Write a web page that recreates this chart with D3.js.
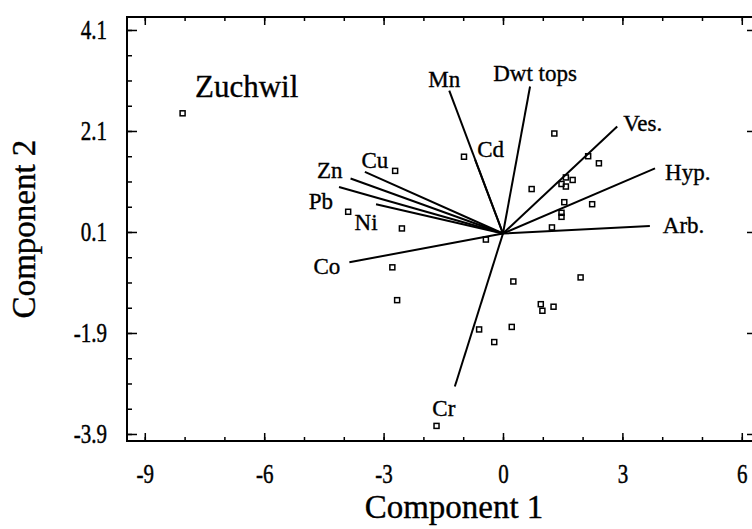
<!DOCTYPE html>
<html>
<head>
<meta charset="utf-8">
<script src="https://cdn.jsdelivr.net/npm/d3@7"></script>
<style>
  body { margin: 0; background: #fff; }
  text { font-family: "Liberation Serif", "Times New Roman", serif; fill: #000; stroke: #000; stroke-width: 0.35px; }
</style>
</head>
<body>
<svg id="biplot" width="752" height="529"></svg>
<script>
// scores of the samples (component 1, component 2)
const sampleX = [-8.05, -0.98, -2.71, -3.89, -2.54, -0.43, 1.29, 2.14, 2.41, 0.72,
                 1.58, 1.75, 1.47, 1.58, 1.54, 2.24, 1.47, 1.47, 1.23, 0.26,
                 1.95, 0.95, 0.99, 1.27, 0.22, -0.60, -2.78, -2.66, -0.22, -1.67];
const sampleY = [2.45, 1.59, 1.31, 0.50, 0.17, -0.05, 2.05, 1.60, 1.46, 0.95,
                 1.18, 1.13, 1.05, 1.00, 0.69, 0.65, 0.48, 0.40, 0.19, -0.88,
                 -0.80, -1.33, -1.46, -1.38, -1.78, -1.83, -0.60, -1.25, -2.08, -3.74];

// loading vectors
const varNames = ["Mn", "Dwt tops", "Ves.", "Hyp.", "Arb.", "Cd", "Cu", "Zn", "Pb", "Ni", "Co", "Cr"];
const varX = [-1.35, 0.68, 2.87, 3.82, 3.69, -0.70, -3.47, -3.83, -4.12, -3.19, -3.86, -1.21];
const varY = [2.90, 2.98, 2.19, 1.36, 0.22, 1.53, 1.29, 1.16, 0.99, 0.65, -0.50, -2.96];
const vecOrigin = [0, 0.07];

const xTicks = [-9, -6, -3, 0, 3, 6];
const yTicks = [4.1, 2.1, 0.1, -1.9, -3.9];
const xMinor = d3.range(-9, 7, 1);
const yMinor = d3.range(-3.9, 4.2, 0.5);

let svg = d3.select("svg#biplot");
let margin = { top: 17, left: 127 };
let chartWidth = 630;
let chartHeight = 424;

const xScale = d3.scaleLinear().domain([-9.447, 6.382]).range([0, chartWidth]);
const yScale = d3.scaleLinear().domain([-4.039, 4.357]).range([chartHeight, 0]);

let chart = svg.append("g")
    .attr("transform", "translate(" + margin.left + "," + margin.top + ")");

// tick label placement (the labels in the figure are a bit stretched vertically)
function fixLabels(g, fn) {
  g.selectAll(".tick text").each(function(d) {
    let t = d3.select(this);
    t.attr("x", null).attr("y", null).attr("dy", null)
     .style("font-size", "21px").attr("fill", "#000");
    fn(t, d);
  });
}

// bottom axis
let bottom = chart.append("g").attr("transform", "translate(0," + chartHeight + ")");
bottom.append("g").call(d3.axisBottom(xScale).tickValues(xMinor).tickSizeInner(-4).tickSizeOuter(0).tickFormat(""));
let bMaj = bottom.append("g").call(d3.axisBottom(xScale).tickValues(xTicks).tickSizeInner(-8).tickSizeOuter(0).tickFormat(d => String(d)));
fixLabels(bMaj, (t, d) => t.attr("text-anchor", "middle").attr("transform", "translate(0,42) scale(1,1.3)"));

// top axis
chart.append("g").call(d3.axisTop(xScale).tickValues(xMinor).tickSizeInner(-4).tickSizeOuter(0).tickFormat(""));
chart.append("g").call(d3.axisTop(xScale).tickValues(xTicks).tickSizeInner(-8).tickSizeOuter(0).tickFormat(""));

// left axis
let left = chart.append("g");
left.append("g").call(d3.axisLeft(yScale).tickValues(yMinor).tickSizeInner(-5).tickSizeOuter(0).tickFormat(""));
let lMaj = left.append("g").call(d3.axisLeft(yScale).tickValues(yTicks).tickSizeInner(-10).tickSizeOuter(0).tickFormat(d => d.toFixed(1)));
fixLabels(lMaj, (t, d) => t.attr("text-anchor", "end").attr("transform", "translate(-20,9) scale(1,1.3)"));

// right axis
let right = chart.append("g").attr("transform", "translate(" + chartWidth + ",0)");
right.append("g").call(d3.axisRight(yScale).tickValues(yMinor).tickSizeInner(-5).tickSizeOuter(0).tickFormat(""));
right.append("g").call(d3.axisRight(yScale).tickValues(yTicks).tickSizeInner(-10).tickSizeOuter(0).tickFormat(""));

chart.selectAll(".domain").remove();
chart.selectAll(".tick line").attr("stroke", "#000").attr("stroke-width", 1.5);

// frame
chart.append("rect")
    .attr("x", 0).attr("y", 0)
    .attr("width", chartWidth).attr("height", chartHeight)
    .attr("fill", "none").attr("stroke", "#000").attr("stroke-width", 2);

// sample points
sampleX.forEach((d, i) => {
  chart.append("rect")
      .attr("x", xScale(d) - 2.5)
      .attr("y", yScale(sampleY[i]) - 2.5)
      .attr("width", 5).attr("height", 5)
      .attr("fill", "none").attr("stroke", "#000").attr("stroke-width", 1.5);
});

// label offsets (px) from the tip of each vector
const labelPos = {
  "Mn": [-5, -4, "middle"], "Dwt tops": [5, -6, "middle"], "Ves.": [6, 5, "start"],
  "Hyp.": [10, 12, "start"], "Arb.": [13, 7, "start"], "Cd": [2, -3, "start"],
  "Cu": [10, -4, "middle"], "Zn": [-8, 0, "end"], "Pb": [-6, 22, "end"],
  "Ni": [-10, 26, "middle"], "Co": [-9, 12, "end"], "Cr": [-11, 29, "middle"]
};

varNames.forEach((name, i) => {
  let x0 = xScale(vecOrigin[0]), y0 = yScale(vecOrigin[1]);
  let x1 = xScale(varX[i]), y1 = yScale(varY[i]);
  chart.append("line")
      .attr("x1", x0).attr("y1", y0).attr("x2", x1).attr("y2", y1)
      .attr("stroke", "#000").attr("stroke-width", 2);
  let p = labelPos[name];
  chart.append("text")
      .attr("x", x1 + p[0]).attr("y", y1 + p[1])
      .attr("text-anchor", p[2])
      .style("font-size", "23px")
      .text(name);
});

// site name
chart.append("text")
    .attr("x", 195 - margin.left).attr("y", 97 - margin.top)
    .style("font-size", "31px")
    .text("Zuchwil");

// axis titles
svg.append("text")
    .attr("x", 454).attr("y", 518)
    .attr("text-anchor", "middle")
    .style("font-size", "33px")
    .text("Component 1");

svg.append("text")
    .attr("transform", "translate(35,229) rotate(-90)")
    .attr("text-anchor", "middle")
    .style("font-size", "33px")
    .text("Component 2");
</script>
</body>
</html>
